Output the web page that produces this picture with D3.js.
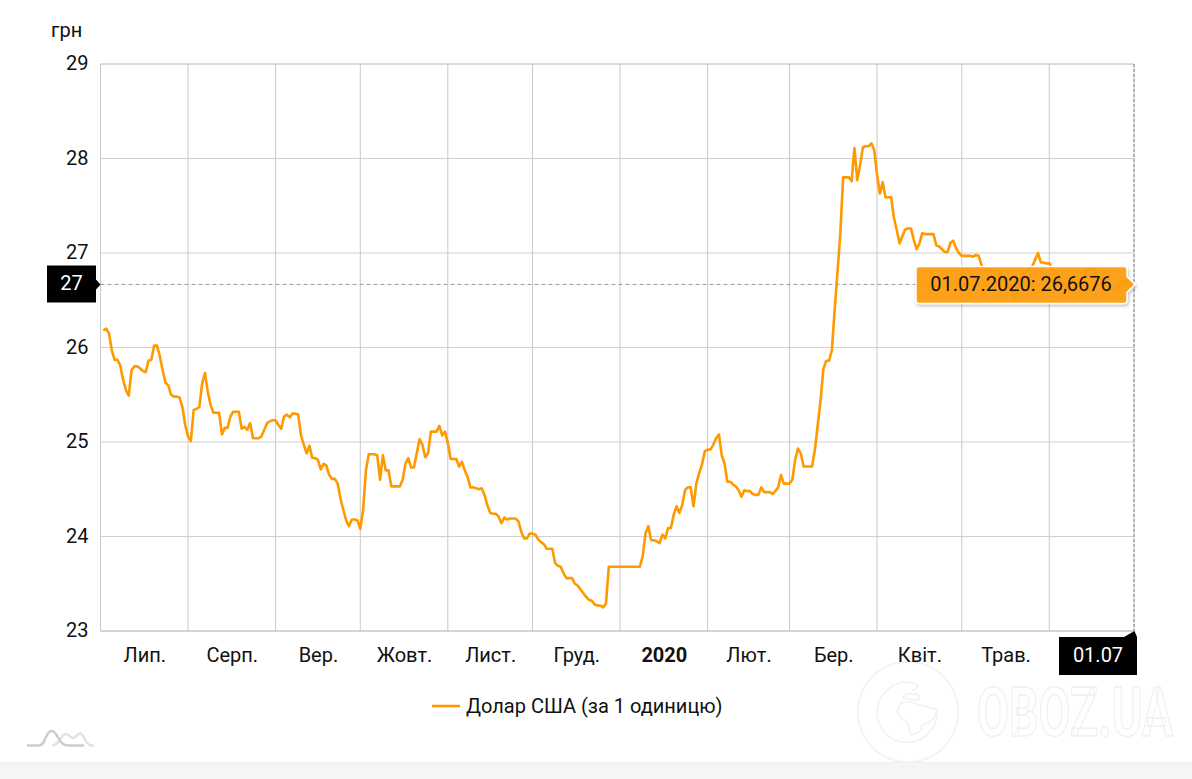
<!DOCTYPE html>
<html lang="uk">
<head>
<meta charset="utf-8">
<script src="https://cdn.jsdelivr.net/npm/d3@7/dist/d3.min.js"></script>
<style>
html,body{margin:0;padding:0;background:#fff;overflow:hidden}
svg{display:block}
text{font-family:Roboto,sans-serif;font-size:20px;fill:#111}
</style>
</head>
<body>
<svg id="chart" width="1192" height="779"></svg>
<script>
const unitLabel = "грн";
const seriesName = "Долар США (за 1 одиницю)";
const yTicks = [23, 24, 25, 26, 27, 28, 29];
const monthLabels = ["Лип.", "Серп.", "Вер.", "Жовт.", "Лист.", "Груд.", "2020", "Лют.", "Бер.", "Квіт.", "Трав.", ""];
const firstRateDay = "2019-07-02";
const tooltipText = "01.07.2020: 26,6676";
const yBadgeText = "27";
const xBadgeText = "01.07";
const rates = [
26.18,26.20,26.15,25.97,25.87,25.87,25.81,25.66,25.55,25.49,
25.76,25.80,25.80,25.78,25.75,25.74,25.86,25.87,26.02,26.02,
25.91,25.76,25.63,25.60,25.50,25.48,25.48,25.47,25.37,25.18,
25.06,25.01,25.34,25.35,25.37,25.62,25.73,25.53,25.39,25.31,
25.31,25.31,25.08,25.15,25.15,25.27,25.32,25.32,25.32,25.14,
25.16,25.13,25.20,25.04,25.04,25.04,25.06,25.13,25.20,25.22,
25.23,25.23,25.18,25.14,25.27,25.29,25.26,25.30,25.30,25.29,
25.07,24.97,24.88,24.96,24.83,24.83,24.81,24.71,24.77,24.75,
24.65,24.61,24.61,24.56,24.40,24.28,24.17,24.11,24.18,24.18,
24.17,24.08,24.28,24.70,24.87,24.87,24.87,24.86,24.60,24.86,
24.70,24.70,24.53,24.53,24.53,24.53,24.60,24.77,24.83,24.73,
24.73,24.88,25.03,24.97,24.84,24.88,25.11,25.11,25.11,25.17,
25.07,25.11,24.99,24.82,24.82,24.82,24.74,24.79,24.70,24.63,
24.52,24.52,24.51,24.50,24.51,24.44,24.33,24.25,24.24,24.24,
24.21,24.14,24.20,24.18,24.19,24.19,24.19,24.16,24.05,23.98,
23.98,24.03,24.03,24.02,23.97,23.94,23.92,23.87,23.87,23.87,
23.72,23.69,23.68,23.61,23.56,23.56,23.56,23.50,23.48,23.44,
23.40,23.36,23.33,23.32,23.28,23.27,23.27,23.25,23.29,23.68,
23.68,23.68,23.68,23.68,23.68,23.68,23.68,23.68,23.68,23.68,
23.68,23.79,24.03,24.11,23.96,23.96,23.95,23.93,24.02,23.98,
24.09,24.09,24.23,24.32,24.25,24.33,24.49,24.52,24.52,24.32,
24.56,24.67,24.76,24.90,24.92,24.92,24.97,25.04,25.08,24.86,
24.77,24.58,24.58,24.55,24.53,24.49,24.42,24.49,24.48,24.48,
24.45,24.44,24.44,24.52,24.47,24.47,24.47,24.45,24.48,24.52,
24.65,24.56,24.56,24.56,24.60,24.81,24.93,24.88,24.74,24.74,
24.74,24.74,24.92,25.18,25.44,25.77,25.86,25.86,25.97,26.40,
26.80,27.21,27.80,27.80,27.80,27.76,28.11,27.77,27.93,28.12,
28.13,28.13,28.16,28.09,27.83,27.63,27.75,27.59,27.59,27.59,
27.37,27.24,27.10,27.18,27.25,27.26,27.26,27.14,27.04,27.10,
27.21,27.20,27.20,27.20,27.20,27.08,27.07,27.04,27.01,27.01,
27.11,27.13,27.05,27.00,26.97,26.97,26.97,26.97,26.96,26.98,
26.97,26.87,26.82,26.82,26.82,26.82,26.82,26.80,26.77,26.72,
26.69,26.65,26.58,26.51,26.63,26.76,26.79,26.81,26.83,26.86,
26.93,27.00,26.90,26.90,26.89,26.89,26.84,26.80,26.75,26.71,
26.68,26.64,26.61,26.60,26.62,26.66,26.71,26.76,26.80,26.83,
26.84,26.82,26.76,26.72,26.70,26.68,26.64,26.62,26.61,26.63,
26.67,26.70,26.70,26.69,26.67,26.6676
];

const left = 100.5, right = 1134, top_ = 64, bottom = 631;
const start = new Date(Date.UTC(2019, 6, 1)), end = new Date(Date.UTC(2020, 6, 1));
const x = d3.scaleUtc().domain([start, end]).range([left, right]);
const y = d3.scaleLinear().domain([23, 29]).range([bottom, top_]);
const day0 = new Date(firstRateDay + "T00:00:00Z");
const points = rates.map((v, i) => ({date: d3.utcDay.offset(day0, i), value: v}));
const last = points[points.length - 1];
const months = d3.utcMonth.range(start, d3.utcMonth.offset(end, 1));

const svg = d3.select("#chart");

// footer strip
svg.append("rect").attr("x", 0).attr("y", 763).attr("width", 1192).attr("height", 16).attr("fill", "#f6f5f3");
svg.append("line").attr("x1", 0).attr("x2", 1192).attr("y1", 762.5).attr("y2", 762.5).attr("stroke", "#efefed");

// watermark
const wm = svg.append("g").attr("fill", "none").attr("stroke", "#f1f1f1").attr("stroke-width", 1.5);
wm.append("circle").attr("cx", 908).attr("cy", 712).attr("r", 50);
wm.append("path").attr("d", "M913 683 A30 30 0 1 0 937 713");
wm.append("path").attr("d", "M897 712 C899 706 900 703 903 702 C909 700 915 703 920 705 C926 707 932 708 937 710 C935 716 934 719 930 722 C926 724 923 724 922 725 C921 729 919 732 917 733 C914 735 911 735 910 733 C909 729 909 725 907 722 C904 720 901 719 900 717 Z");
wm.append("path").attr("d", "M903 698 C905 694 909 692 913 695 C917 692 920 696 919 700 C914 700 908 699 903 698 M913 683 C917 684 920 685 916 689 C914 691 913 690 912 688");
const wmText = wm.append("text").style("font-family", "'Liberation Sans Narrow','Roboto',sans-serif")
  .style("font-size", "68px").style("font-weight", 700).style("fill", "none")
  .attr("stroke", "#f0f0f0").attr("stroke-width", 1.5).text("OBOZ.UA");
const wmLen = wmText.node().getComputedTextLength();
wmText.attr("transform", `translate(977,736) scale(${196 / wmLen},1)`);

// corner logo
const logo = svg.append("g").attr("fill", "none").attr("stroke-width", 2.5);
logo.append("path").attr("d", "M52 745.5C60 745.5 60 734 66 734C70 734 70 738 73 738C76 738 77 733.5 80 733.5C84 733.5 85 745.5 92 745.5H94").attr("stroke", "#e2e2e2");
logo.append("path").attr("d", "M27 745.5H39C46 745.5 45 731 51.5 731C58 731 58 745.5 68 745.5H84").attr("stroke", "#cdcdcd");

// y axis with grid
const yAxis = svg.append("g").attr("transform", `translate(${left},0)`)
  .call(d3.axisLeft(y).offset(0).tickValues(yTicks).tickSize(-(right - left)).tickPadding(12).tickFormat(d3.format("d")));
yAxis.select(".domain").attr("stroke", "#d0d0d0");
yAxis.selectAll(".tick line").attr("stroke", "#d0d0d0");
yAxis.selectAll("text").style("font-size", "20px").attr("fill", "#111").attr("dy", "0.32em");

// x axis with grid
const xAxis = svg.append("g").attr("transform", `translate(0,${bottom})`)
  .call(d3.axisBottom(x).offset(0).tickValues(months.slice(0, 12)).tickSize(-(bottom - top_)).tickFormat(""));
xAxis.select(".domain").attr("stroke", "#d0d0d0");
xAxis.selectAll(".tick line").attr("stroke", "#c8c8c8");

// month labels centred in each month
svg.append("g").selectAll("text").data(months.slice(0, 12)).join("text")
  .attr("x", d => (x(d) + x(d3.utcMonth.offset(d, 1))) / 2 + 0.5)
  .attr("y", 662).attr("text-anchor", "middle")
  .style("font-weight", (d, i) => monthLabels[i] === "2020" ? 700 : 400)
  .text((d, i) => monthLabels[i]);

svg.append("text").attr("x", 51).attr("y", 37).text(unitLabel);

// crosshairs
svg.append("line").attr("x1", left).attr("x2", right).attr("y1", y(last.value)).attr("y2", y(last.value))
  .attr("stroke", "#9a9a9a").attr("stroke-dasharray", "4 3");
svg.append("line").attr("x1", x(last.date)).attr("x2", x(last.date)).attr("y1", top_).attr("y2", bottom)
  .attr("stroke", "#b4b4b4").attr("stroke-width", 2).attr("stroke-dasharray", "3 2");

// series
svg.append("path").datum(points).attr("fill", "none").attr("stroke", "#ff9900").attr("stroke-width", 2.6)
  .attr("stroke-linejoin", "round")
  .attr("d", d3.line().x(d => x(d.date)).y(d => y(d.value)));

// legend
svg.append("line").attr("x1", 432).attr("x2", 460).attr("y1", 706).attr("y2", 706).attr("stroke", "#ff9900").attr("stroke-width", 2.6);
svg.append("text").attr("x", 466).attr("y", 713).text(seriesName);

// y badge
const py = y(last.value), px = x(last.date);
svg.append("path").attr("fill", "#000")
  .attr("d", `M47 ${py-19}H96V${py-5}L${left} ${py}L96 ${py+5}V${py+18}H47Z`);
svg.append("text").attr("x", 71.5).attr("y", py + 5.5).attr("text-anchor", "middle").style("fill", "#fff").text(yBadgeText);

// x badge
svg.append("path").attr("fill", "#000")
  .attr("d", `M1059 637H1124L${px+0.5} ${bottom}L1137 637V675H1059Z`);
svg.append("text").attr("x", 1098).attr("y", 662).attr("text-anchor", "middle").style("fill", "#fff").text(xBadgeText);

// tooltip
const defs = svg.append("defs");
const f = defs.append("filter").attr("id", "sh").attr("x", "-10%").attr("y", "-30%").attr("width", "120%").attr("height", "170%");
f.append("feDropShadow").attr("dx", 1).attr("dy", 2).attr("stdDeviation", 1.5).attr("flood-color", "#000").attr("flood-opacity", 0.25);
svg.append("path").attr("filter", "url(#sh)").attr("fill", "#ff9c0e").attr("fill-opacity", 0.93)
  .attr("stroke", "#fff").attr("stroke-width", 1.5)
  .attr("d", `M919 ${py-18}H1124Q1127 ${py-18} 1127 ${py-15}V${py-8}L${px+1} ${py}L1127 ${py+8}V${py+16}Q1127 ${py+19} 1124 ${py+19}H919Q916 ${py+19} 916 ${py+16}V${py-15}Q916 ${py-18} 919 ${py-18}Z`);
svg.append("text").attr("x", 1021).attr("y", py + 7).attr("text-anchor", "middle").text(tooltipText);
</script>
</body>
</html>
